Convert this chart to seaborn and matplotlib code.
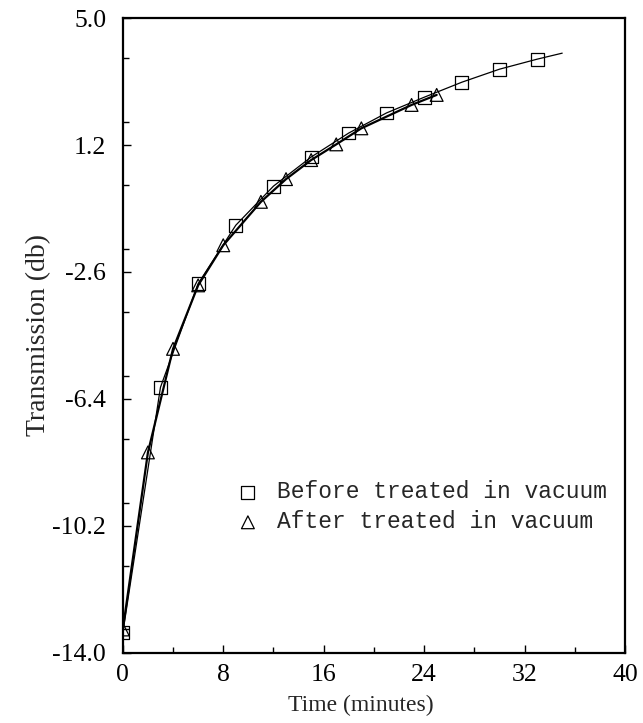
import numpy as np
import pandas as pd
import matplotlib
matplotlib.use("Agg")
import matplotlib.pyplot as plt
import seaborn as sns
from matplotlib.ticker import FixedLocator, MultipleLocator

# ---- data ----
before_t = [0, 3, 6, 9, 12, 15, 18, 21, 24, 27, 30, 33]
before_db = [-13.4, -6.05, -2.95, -1.2, -0.03, 0.84, 1.56, 2.16, 2.63, 3.08, 3.47, 3.77]
after_t = [0, 2, 4, 6, 8, 11, 13, 15, 17, 19, 23, 25]
after_db = [-13.3, -8.0, -4.9, -3.0, -1.8, -0.5, 0.18, 0.75, 1.22, 1.7, 2.4, 2.7]
# curve continuation past the last marker
curve_end_t = [35]
curve_end_db = [3.95]

x_ticks = [0, 8, 16, 24, 32, 40]
y_ticks = [-14.0, -10.2, -6.4, -2.6, 1.2, 5.0]
y_tick_labels = ["-14.0", "-10.2", "-6.4", "-2.6", "1.2", "5.0"]

sns.set_theme(style="white")
plt.rcParams["font.family"] = ["Liberation Serif", "DejaVu Serif"]

fig = plt.figure(figsize=(6.43, 7.23), dpi=100)
ax = fig.add_axes([0.191, 0.097, 0.781, 0.878])

df_before = pd.DataFrame({"t": before_t + curve_end_t, "db": before_db + curve_end_db})
df_after = pd.DataFrame({"t": after_t, "db": after_db})

sns.lineplot(data=df_before, x="t", y="db", ax=ax, color="black", lw=0.9,
             sort=True, estimator=None)
sns.lineplot(data=df_after, x="t", y="db", ax=ax, color="black", lw=1.6,
             sort=True, estimator=None)

ax.scatter(before_t, before_db, marker="s", s=85, facecolors="none",
           edgecolors="black", linewidths=0.9, label="Before treated in vacuum", zorder=3)
ax.scatter(after_t, after_db, marker="^", s=85, facecolors="none",
           edgecolors="black", linewidths=0.9, label="After treated in vacuum", zorder=3)

ax.set_xlim(0, 40)
ax.set_ylim(-14.0, 5.0)
ax.xaxis.set_major_locator(FixedLocator(x_ticks))
ax.xaxis.set_minor_locator(MultipleLocator(4))
ax.yaxis.set_major_locator(FixedLocator(y_ticks))
ax.yaxis.set_minor_locator(MultipleLocator(1.9))
ax.set_yticklabels(y_tick_labels)
ax.tick_params(axis="both", which="both", direction="in", labelsize=18.5,
               bottom=True, left=True, top=False, right=False, colors="black")
ax.tick_params(axis="both", which="major", length=6, width=1)
ax.tick_params(axis="both", which="minor", length=4, width=1)
ax.tick_params(axis="x", pad=8)
ax.tick_params(axis="y", pad=12)

for sp in ax.spines.values():
    sp.set_visible(True)
    sp.set_color("black")
    sp.set_linewidth(1.6)

ax.set_xlabel("Time (minutes)", fontsize=17)
ax.xaxis.set_label_coords(0.474, -0.066)
ax.set_ylabel("Transmission (db)", fontsize=20)
ax.yaxis.set_label_coords(-0.142, 0.5)

leg = ax.legend(loc="center left", bbox_to_anchor=(0.208, 0.23), frameon=False,
                prop={"family": "Liberation Mono", "size": 16.5},
                handlelength=1.0, handletextpad=0.76, labelspacing=0.3,
                markerscale=1.0, borderaxespad=0)

fig.savefig("out.png", dpi=100, facecolor="white")
